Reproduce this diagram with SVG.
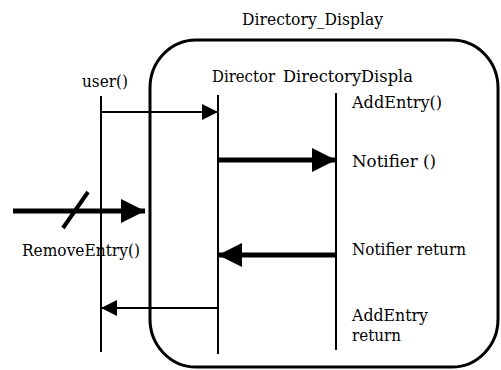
<svg xmlns="http://www.w3.org/2000/svg" width="501" height="370" viewBox="0 0 501 370">
<style>
text{font-family:'DejaVu Serif','Liberation Serif',serif;font-size:17px;fill:#000}
text.sm{font-size:16px}
.frame{fill:none;stroke:#000;stroke-width:3}
.life{stroke:#000;stroke-width:2}
.thin{stroke:#000;stroke-width:1.8;fill:none}
.thick{stroke:#000;stroke-width:5;fill:none}
</style>
<defs>
<marker id="ah" markerUnits="userSpaceOnUse" markerWidth="17" markerHeight="17" refX="16" refY="8" orient="auto">
<path d="M0,0 L16,8 L0,16 z" fill="#000"/>
</marker>
<marker id="ahb" markerUnits="userSpaceOnUse" markerWidth="25" markerHeight="24" refX="24" refY="12" orient="auto">
<path d="M0,0 L24,12 L0,24 z" fill="#000"/>
</marker>
</defs>
<rect width="501" height="370" fill="#fff"/>
<g id="directory_display">
<rect class="frame" x="150" y="40" width="348" height="327" rx="46" ry="48"/>
<text x="242" y="25" textLength="141" lengthAdjust="spacingAndGlyphs">Directory_Display</text>
</g>
<g id="user">
<line class="life" x1="101" y1="96" x2="101" y2="352"/>
<text x="82" y="87" textLength="46" lengthAdjust="spacingAndGlyphs">user()</text>
</g>
<g id="director">
<line class="life" x1="218" y1="95" x2="218" y2="354"/>
<text x="212" y="82" textLength="63" lengthAdjust="spacingAndGlyphs">Director</text>
</g>
<g id="directorydispla">
<line class="life" x1="336" y1="93" x2="336" y2="350"/>
<text x="283" y="82" textLength="130" lengthAdjust="spacingAndGlyphs">DirectoryDispla</text>
</g>
<g id="connectors">
<line class="thin" x1="101" y1="112" x2="218" y2="112" marker-end="url(#ah)"/>
<line class="thick" x1="218" y1="160" x2="336" y2="160" marker-end="url(#ahb)"/>
<line class="thick" x1="13" y1="211" x2="145" y2="211" marker-end="url(#ahb)"/>
<line x1="63" y1="228" x2="88" y2="192" stroke="#000" stroke-width="4"/>
<line class="thick" x1="336" y1="255" x2="218" y2="255" marker-end="url(#ahb)"/>
<line class="thin" x1="218" y1="308" x2="101" y2="308" marker-end="url(#ah)"/>
</g>
<g id="labels">
<text x="352" y="108" textLength="90" lengthAdjust="spacingAndGlyphs">AddEntry()</text>
<text x="352" y="167" textLength="84" lengthAdjust="spacingAndGlyphs">Notifier ()</text>
<text x="22" y="256" textLength="118" lengthAdjust="spacingAndGlyphs">RemoveEntry()</text>
<text x="352" y="255" textLength="114" lengthAdjust="spacingAndGlyphs">Notifier return</text>
<text class="sm" x="352" y="321" textLength="76" lengthAdjust="spacingAndGlyphs">AddEntry</text>
<text class="sm" x="352" y="341" textLength="49" lengthAdjust="spacingAndGlyphs">return</text>
</g>
</svg>
